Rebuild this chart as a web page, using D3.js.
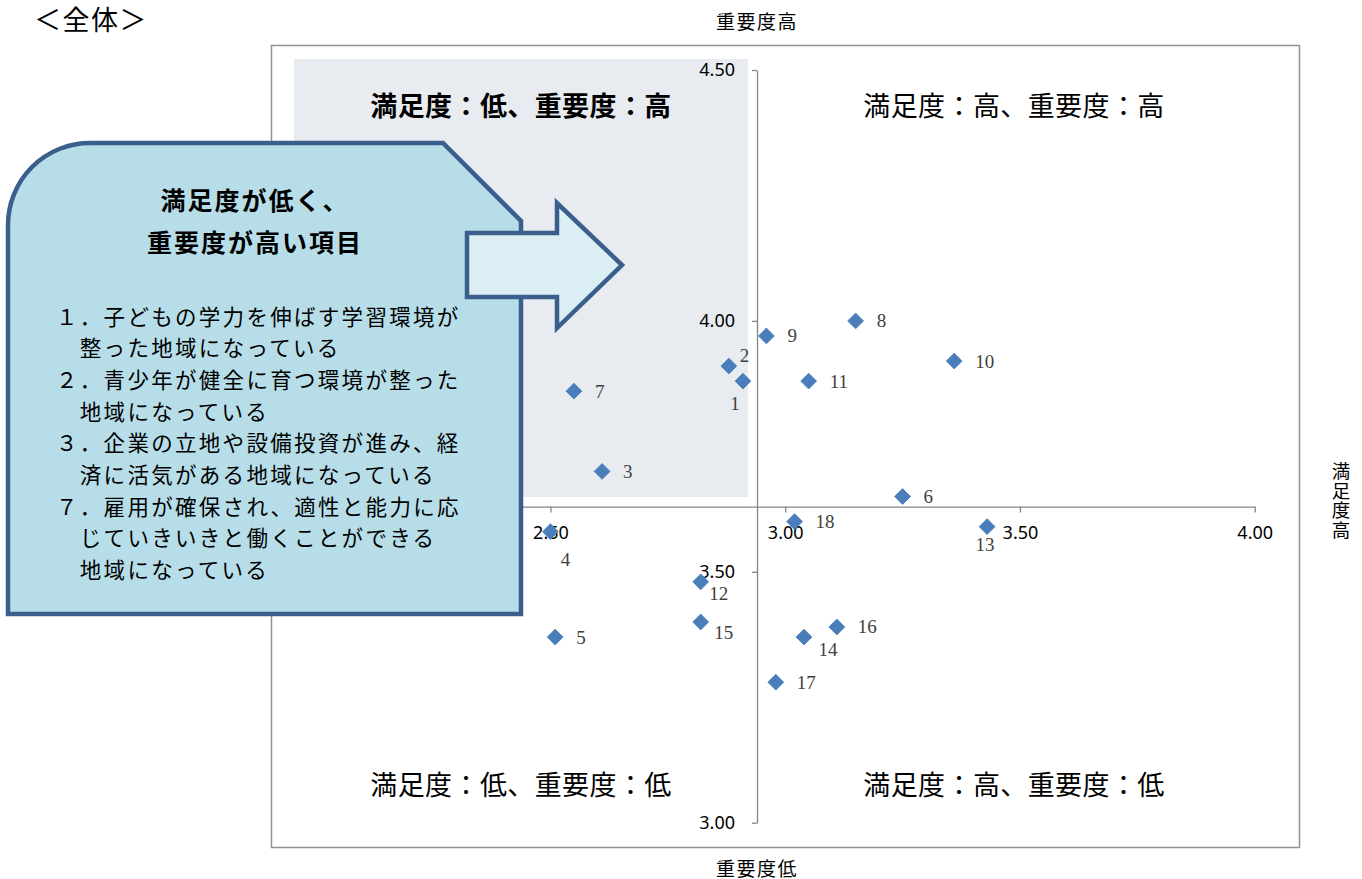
<!DOCTYPE html>
<html lang="ja">
<head>
<meta charset="utf-8">
<title>満足度・重要度 散布図</title>
<script src="https://cdn.jsdelivr.net/npm/d3@7"></script>
<style>
  html, body { margin: 0; padding: 0; background: #ffffff; }
  svg { display: block; }
  .jp { font-family: "Noto Sans CJK JP", "Noto Sans", sans-serif; }
  .num { font-family: "Noto Sans", "Open Sans", sans-serif; }
  .pt-label { font-family: "Liberation Serif", "DejaVu Serif", serif; }
</style>
</head>
<body>
<svg id="chart" width="1362" height="879"></svg>
<script>
// 項目番号・満足度（横軸）・重要度（縦軸）
const itemNos = [1, 2, 3, 4, 5, 6, 7, 8, 9, 10, 11, 12, 13, 14, 15, 16, 17, 18];
const satisfaction = [2.91, 2.88, 2.61, 2.50, 2.51, 3.25, 2.55, 3.15, 2.96, 3.36, 3.05, 2.82, 3.43, 3.04, 2.82, 3.11, 2.98, 3.02];
const importance   = [3.88, 3.91, 3.70, 3.58, 3.37, 3.65, 3.86, 4.00, 3.97, 3.92, 3.88, 3.48, 3.59, 3.37, 3.40, 3.39, 3.28, 3.60];

// 軸の目盛りと交差位置
const xTicks = [2.5, 3.0, 3.5, 4.0];
const yTicks = [3.0, 3.5, 4.0, 4.5];
const xCross = 2.94;   // 縦軸が横軸と交わる満足度
const yCross = 3.63;   // 横軸が縦軸と交わる重要度

// 象限ラベル
const quadrantLabels = [
  "満足度：低、重要度：高",
  "満足度：高、重要度：高",
  "満足度：低、重要度：低",
  "満足度：高、重要度：低"
];

// 吹き出しの文章
const calloutTitle = ["満足度が低く、", "重要度が高い項目"];
const calloutLines = [
  "１．子どもの学力を伸ばす学習環境が",
  "　整った地域になっている",
  "２．青少年が健全に育つ環境が整った",
  "　地域になっている",
  "３．企業の立地や設備投資が進み、経",
  "　済に活気がある地域になっている",
  "７．雇用が確保され、適性と能力に応",
  "　じていきいきと働くことができる",
  "　地域になっている"
];

const svg = d3.select("#chart");

// スケール
const x = d3.scaleLinear().domain([2.0, 4.0]).range([315.7, 1254.7]);
const y = d3.scaleLinear().domain([3.0, 4.5]).range([822.7, 70]);

// グラフ枠
svg.append("rect")
  .attr("x", 271.5).attr("y", 45.5)
  .attr("width", 1028).attr("height", 802)
  .attr("fill", "#ffffff")
  .attr("stroke", "#929292").attr("stroke-width", 1.5);

// 重点領域（左上）の網掛け
svg.append("rect")
  .attr("x", 294).attr("y", 59)
  .attr("width", 454).attr("height", 438)
  .attr("fill", "#e8ebf0");

// 象限ラベル
const qPos = [
  { cx: 521, cy: 104, bold: true },
  { cx: 1014, cy: 104, bold: false },
  { cx: 521, cy: 783, bold: false },
  { cx: 1014, cy: 783, bold: false }
];
svg.append("g").selectAll("text")
  .data(quadrantLabels)
  .join("text")
  .attr("class", "jp")
  .attr("x", (d, i) => qPos[i].cx)
  .attr("y", (d, i) => qPos[i].cy)
  .attr("text-anchor", "middle")
  .attr("dominant-baseline", "central")
  .attr("font-size", 27)
  .attr("letter-spacing", 0.4)
  .attr("font-weight", (d, i) => qPos[i].bold ? "bold" : "normal")
  .attr("fill", "#000")
  .text(d => d);

// 縦軸（重要度）
const yAxis = svg.append("g")
  .attr("transform", `translate(${x(xCross)},0)`)
  .call(d3.axisLeft(y).tickValues(yTicks).tickFormat(d3.format(".2f"))
    .tickSize(5).tickSizeOuter(0).tickPadding(17));

// 横軸（満足度）
const xAxis = svg.append("g")
  .attr("transform", `translate(0,${y(yCross)})`)
  .call(d3.axisBottom(x).tickValues(xTicks).tickFormat(d3.format(".2f"))
    .tickSize(6).tickSizeOuter(0).tickPadding(14));

[yAxis, xAxis].forEach(g => {
  g.select(".domain").attr("stroke", "#868686").attr("stroke-width", 1.3);
  g.selectAll(".tick line").attr("stroke", "#868686").attr("stroke-width", 1.3);
  g.selectAll(".tick text")
    .attr("class", "num")
    .attr("font-size", 18)
    .attr("fill", "#000");
});

// 軸タイトル
svg.append("text").attr("class", "jp")
  .attr("x", x(xCross)).attr("y", 20)
  .attr("text-anchor", "middle").attr("dominant-baseline", "central")
  .attr("font-size", 19).attr("letter-spacing", 1.5).attr("fill", "#000")
  .text("重要度高");
svg.append("text").attr("class", "jp")
  .attr("x", x(xCross)).attr("y", 867)
  .attr("text-anchor", "middle").attr("dominant-baseline", "central")
  .attr("font-size", 19).attr("letter-spacing", 1.5).attr("fill", "#000")
  .text("重要度低");
// 右側の縦書きタイトル
svg.append("text").attr("class", "jp")
  .attr("x", 1341).attr("y", 501)
  .attr("writing-mode", "vertical-rl")
  .attr("text-anchor", "middle")
  .attr("font-size", 18.5).attr("letter-spacing", 1.2).attr("fill", "#000")
  .text("満足度高");

// 散布点（ひし形）
const points = itemNos.map((n, i) => ({ n, sx: satisfaction[i], iy: importance[i] }));
svg.append("g").selectAll("path")
  .data(points)
  .join("path")
  .attr("transform", d => `translate(${x(d.sx)},${y(d.iy)}) rotate(45)`)
  .attr("d", d3.symbol(d3.symbolSquare, 125))
  .attr("fill", "#4a7ebb")
  .attr("stroke", "#4a7ebb")
  .attr("stroke-width", 0.8);

// 点ラベルの配置（既定は右側）
const labelOffset = {
  1: { dx: -8, dy: 22, anchor: "middle" },
  2: { dx: 11, dy: -11, anchor: "start" },
  4: { dx: 15, dy: 28, anchor: "middle" },
  12: { dx: 18, dy: 12, anchor: "middle" },
  13: { dx: -2, dy: 18, anchor: "middle" },
  14: { dx: 24, dy: 12, anchor: "middle" },
  15: { dx: 23, dy: 11, anchor: "middle" }
};
svg.append("g").selectAll("text")
  .data(points)
  .join("text")
  .attr("class", "pt-label")
  .attr("x", d => x(d.sx) + (labelOffset[d.n] ? labelOffset[d.n].dx : 21))
  .attr("y", d => y(d.iy) + (labelOffset[d.n] ? labelOffset[d.n].dy : 0))
  .attr("text-anchor", d => labelOffset[d.n] ? labelOffset[d.n].anchor : "start")
  .attr("dominant-baseline", "central")
  .attr("font-size", 19)
  .attr("fill", "#404040")
  .text(d => d.n);

// 吹き出し
const r = 82;
const callout = d3.path();
callout.moveTo(8, 143 + r);
callout.arcTo(8, 143, 8 + r, 143, r);
callout.lineTo(443, 143);
callout.lineTo(521, 221);
callout.lineTo(521, 614);
callout.lineTo(8, 614);
callout.closePath();
svg.append("path")
  .attr("d", callout.toString())
  .attr("fill", "#b7dde8")
  .attr("stroke", "#3b5f8d")
  .attr("stroke-width", 4.5)
  .attr("stroke-linejoin", "miter");

svg.append("g").selectAll("text")
  .data(calloutTitle)
  .join("text")
  .attr("class", "jp")
  .attr("x", 255)
  .attr("y", (d, i) => 199 + i * 42)
  .attr("text-anchor", "middle").attr("dominant-baseline", "central")
  .attr("font-size", 25).attr("font-weight", "bold").attr("letter-spacing", 2)
  .attr("fill", "#000")
  .text(d => d);

svg.append("g").selectAll("text")
  .data(calloutLines)
  .join("text")
  .attr("class", "jp")
  .attr("x", 56)
  .attr("y", (d, i) => 315 + i * 31.7)
  .attr("dominant-baseline", "central")
  .attr("font-size", 21.5).attr("letter-spacing", 2.3)
  .attr("fill", "#000")
  .text(d => d);

// 矢印
const arrow = [[467, 233], [557, 233], [557, 203], [622, 265], [557, 328], [557, 297], [467, 297]];
svg.append("path")
  .attr("d", d3.line()(arrow) + "Z")
  .attr("fill", "#dbeef4")
  .attr("stroke", "#3b5f8d")
  .attr("stroke-width", 4.5)
  .attr("stroke-linejoin", "miter");

// 見出し
svg.append("text").attr("class", "jp")
  .attr("x", 34).attr("y", 18)
  .attr("dominant-baseline", "central")
  .attr("font-size", 27).attr("letter-spacing", 1.5).attr("fill", "#000")
  .text("＜全体＞");
</script>
</body>
</html>
